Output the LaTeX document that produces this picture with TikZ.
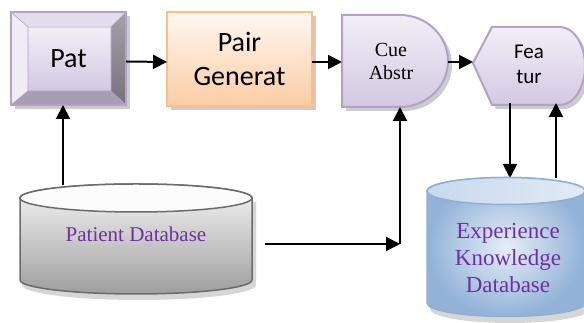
\documentclass[tikz,border=0pt]{standalone}
\usepackage{fontspec}
\setmainfont{Liberation Serif}
\newfontfamily\timesf{Liberation Serif}
\newfontfamily\calib{Carlito}
\usetikzlibrary{arrows.meta}

\definecolor{lavline}{HTML}{B3A2C7}
\definecolor{lavtop}{HTML}{F2EFF7}
\definecolor{lavbot}{HTML}{D3C8E2}
\definecolor{orline}{HTML}{F8BE8C}
\definecolor{ortop}{HTML}{FFF8F2}
\definecolor{orbot}{HTML}{FBCCA4}
\definecolor{dbline}{HTML}{6B6B6B}
\definecolor{ekline}{HTML}{8FB0D6}
\definecolor{txtpurple}{HTML}{7030A0}
\definecolor{bevtop}{HTML}{E4DDEE}
\definecolor{bevleft}{HTML}{F0ECF5}
\definecolor{bevrtop}{HTML}{A5A1AB}
\definecolor{bevrbot}{HTML}{76727C}
\definecolor{bevbot}{HTML}{A69EB2}
\definecolor{dbtop}{HTML}{F6F6F6}
\definecolor{dbbot}{HTML}{9E9E9E}
\definecolor{dblid}{HTML}{FCFCFC}
\definecolor{ekin}{HTML}{E6EEF7}
\definecolor{ekout}{HTML}{92B2D8}
\definecolor{eklidl}{HTML}{C8D9EE}
\definecolor{eklidr}{HTML}{E2EAF5}

\tikzset{
  anchorbox/.style={inner sep=0pt, outer sep=0pt, shape=rectangle, align=center},
  conn/.style={line width=2pt, -{Triangle[length=14pt,width=14pt]}},
  shadowfill/.style={fill=black, opacity=0.2},
  lavshape/.style={draw=lavline, line width=2pt, top color=lavtop, bottom color=lavbot},
}

\begin{document}
\begin{tikzpicture}[x=1pt,y=1pt]
\useasboundingbox (0,0) rectangle (584,323);
\clip (0,0) rectangle (584,323);

% ---- bevelled "Pat" box ----
\fill[shadowfill] (15,214) rectangle (130,307);
\fill[bevtop] (11,311) -- (126,311) -- (111,296) -- (28,296) -- cycle;
\fill[bevleft] (11,311) -- (11,218) -- (28,232) -- (28,296) -- cycle;
\shade[top color=bevrtop, bottom color=bevrbot]
  (126,311) -- (126,218) -- (111,232) -- (111,296) -- cycle;
\fill[bevbot] (11,218) -- (126,218) -- (111,232) -- (28,232) -- cycle;
\shade[top color=lavtop, bottom color=lavbot] (28,232) rectangle (111,296);
\draw[lavline, line width=0.6pt] (11,311) -- (28,296) (126,311) -- (111,296)
  (11,218) -- (28,232) (126,218) -- (111,232) (28,232) rectangle (111,296);
\draw[lavline, line width=2pt] (11,218) rectangle (126,311);

% ---- "Pair Generat" box ----
\fill[shadowfill] (171,213) rectangle (316,307);
\draw[draw=orline, line width=2pt, top color=ortop, bottom color=orbot] (167,217) rectangle (312,311);

% ---- "Cue Abstr" delay shape ----
\fill[shadowfill] (346,304) -- (404,304) arc[start angle=90, end angle=-90, x radius=48, y radius=46] -- (346,212) -- cycle;
\path[lavshape] (342,308) -- (400,308) arc[start angle=90, end angle=-90, x radius=48, y radius=46] -- (342,216) -- cycle;

% ---- "Featur" display shape ----
\fill[shadowfill] (477,256) -- (496,292) -- (564,292) arc[start angle=90, end angle=-90, x radius=25, y radius=39] -- (496,214) -- cycle;
\path[lavshape] (473,260) -- (492,296) -- (560,296) arc[start angle=90, end angle=-90, x radius=25, y radius=39] -- (492,218) -- cycle;

% ---- text nodes, also used as connector anchors ----
\node[anchorbox, minimum width=115pt, minimum height=93pt, font=\calib\fontsize{28}{34}\selectfont] (pat) at (68.5,264.5) {Pat};
\node[anchorbox, minimum width=145pt, minimum height=94pt, font=\calib\fontsize{28}{34}\selectfont] (pair) at (239.5,264) {Pair\\Generat};
\node[anchorbox, minimum width=106pt, minimum height=92pt, font=\timesf\fontsize{20}{23}\selectfont] (cue) at (395,262) {\hspace*{-8pt}Cue\\\hspace*{-8pt}Abstr};
\node[anchorbox, minimum width=112pt, minimum height=78pt, font=\calib\fontsize{21}{25}\selectfont] (feat) at (529,259) {Fea\\tur};

% ---- connectors between the top row and the databases ----
\coordinate (pin) at (63,0);
\coordinate (corner) at (400,79);
\coordinate (dbout) at (265,79);
\coordinate (dn) at (510,0);
\coordinate (upx) at (556,0);

\draw[conn] (pin |- 0,138) -- (pin |- pat.south);
\draw[conn] ([yshift=-3pt]pat.east) -- ([yshift=-3pt]pair.west);
\draw[conn] ([yshift=-3pt]pair.east) -- ([yshift=-1pt]cue.west);
\draw[conn] ([yshift=-1pt]cue.east) -- ([yshift=2pt]feat.west);
\draw[conn] (dbout) -- (corner);
\draw[conn] (corner) -- (corner |- cue.south);
\draw[conn] (dn |- feat.south) -- (dn |- 0,145);
\draw[conn] (upx |- 0,145) -- (upx |- feat.south);

% ---- Patient Database cylinder ----
\fill[shadowfill, opacity=0.16] (22,121) -- (22,38) arc[start angle=180, end angle=360, x radius=117, y radius=15] -- (256,121) -- cycle;
\path[draw=dbline, line width=1.5pt, top color=dbtop, bottom color=dbbot]
  (20,125) -- (20,43) arc[start angle=180, end angle=360, x radius=116, y radius=14]
  -- (252,125) arc[start angle=0, end angle=180, x radius=116, y radius=14] -- cycle;
\draw[draw=dbline, line width=1.5pt, fill=dblid] (136,125) ellipse[x radius=116, y radius=14];
\node[anchorbox, minimum width=232pt, minimum height=111pt, text=txtpurple, font=\timesf\fontsize{21}{25}\selectfont] (pdb) at (136,89) {Patient Database};

% ---- Experience Knowledge Database cylinder ----
\fill[shadowfill, opacity=0.16] (430,128) -- (430,14) arc[start angle=180, end angle=360, x radius=80, y radius=14] -- (590,128) -- cycle;
\path[draw=ekline, line width=1.5pt, inner color=ekin, outer color=ekout]
  (427,132) -- (427,20) arc[start angle=180, end angle=360, x radius=79, y radius=13.5]
  -- (585,132) arc[start angle=0, end angle=180, x radius=79, y radius=13.5] -- cycle;
\draw[draw=ekline, line width=1.5pt, left color=eklidl, right color=eklidr] (506,132) ellipse[x radius=79, y radius=13.5];
\node[anchorbox, minimum width=158pt, minimum height=139pt, text=txtpurple, font=\timesf\fontsize{23}{27}\selectfont] (ekd) at (508,65) {Experience\\Knowledge\\Database};

\end{tikzpicture}
\end{document}
